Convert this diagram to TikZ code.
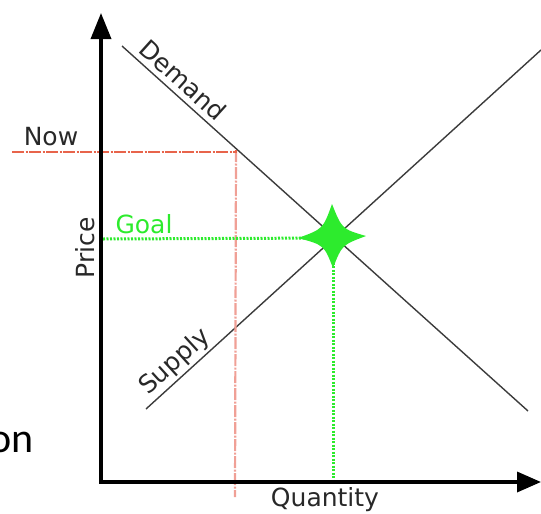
\documentclass[tikz,border=0pt]{standalone}
\usepackage{fontspec}
\setmainfont{DejaVu Sans}
\newfontfamily\onfont{Carlito}
\usetikzlibrary{arrows.meta}
\definecolor{linec}{RGB}{60,60,60}
\definecolor{nowc}{RGB}{232,100,75}
\definecolor{nowv}{RGB}{240,160,150}
\definecolor{goalc}{RGB}{45,235,45}
\definecolor{txtc}{RGB}{40,40,40}
\tikzset{
  axis/.style={line width=3.5pt, black, line join=miter},
  curve/.style={line width=1.4pt, linec},
  nowline/.style={line width=2pt, nowc, dash pattern=on 12pt off 1.5pt on 2pt off 1.5pt},
  nowvline/.style={line width=2.2pt, nowv, dash pattern=on 12pt off 1.5pt on 2pt off 1.5pt},
  goalline/.style={line width=3pt, goalc, dash pattern=on 2pt off 1.5pt},
  lab/.style={font=\fontsize{25}{30}\selectfont, text=txtc, inner sep=0pt},
}
\begin{document}
\begin{tikzpicture}[x=1pt,y=-1pt]
\useasboundingbox (0,0) rectangle (541,514);
% coordinates
\coordinate (O) at (101,482);
\coordinate (ytop) at (101,13);
\coordinate (xend) at (541,482);
\coordinate (d1) at (122,46);
\coordinate (d2) at (528,411);
\coordinate (s1) at (146,409);
\coordinate (s2) at (541,50);
\coordinate (nowL) at (12,152);
\coordinate (nowC) at (236,150);
\coordinate (nowB) at (235,497);
\coordinate (goalL) at (103,239);
\coordinate (E) at (333,238);
\coordinate (goalB) at (333,482);
% supply and demand
\draw[curve] (d1) -- (d2);
\draw[curve] (s1) -- (s2);
% now lines
\draw[nowvline] (nowC) -- (nowB);
\draw[nowline] (nowL) -- (236,152) -- (nowC);
% goal lines
\draw[goalline] (goalL) -- (E);
\draw[goalline] (E) -- (goalB);
% axes
\draw[axis, {Triangle[length=26pt,width=20pt]}-{Triangle[length=24pt,width=20pt]}] (ytop) -- (O) -- (xend);
% star
\fill[goalc] (332,204) .. controls (342,229) .. (366,236)
  .. controls (342,245) .. (333,268)
  .. controls (324,245) .. (298,238)
  .. controls (323,229) .. cycle;
% labels
\node[lab] (now) at (51,137) {Now};
\node[lab, text=goalc] (goal) at (144,224) {Goal};
\node[lab, rotate=90] (price) at (85,248) {Price};
\node[lab] (qty) at (325,500) {Quantity};
\node[lab, rotate=-42] (dem) at (183,80) {Demand};
\node[lab, rotate=42.4] (sup) at (175,362) {Supply};
\node[inner sep=0pt, anchor=base east, font=\onfont\fontsize{42}{50}\selectfont] (on) at (34,452) {on};
\end{tikzpicture}
\end{document}
